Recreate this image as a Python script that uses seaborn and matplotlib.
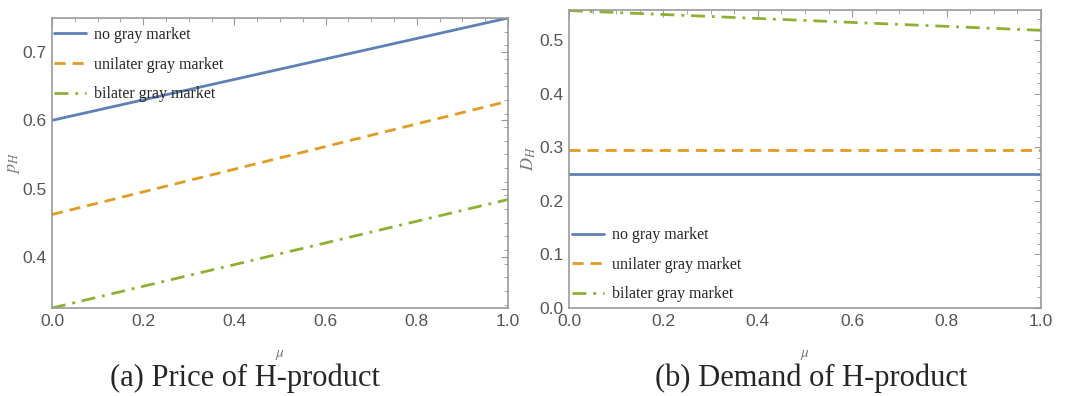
import pandas as pd
import numpy as np
import matplotlib.pyplot as plt
import seaborn as sns

# data
mu = [0.0, 1.0]
series = ['no gray market', 'unilater gray market', 'bilater gray market']
price_none = [0.600, 0.750]
price_uni = [0.462, 0.628]
price_bi = [0.325, 0.484]
demand_none = [0.250, 0.250]
demand_uni = [0.295, 0.295]
demand_bi = [0.556, 0.519]

colors = ['#5E81B5', '#E19C24', '#8FB032']
dashes = {series[0]: '', series[1]: (4, 2.5), series[2]: (5, 2.5, 1, 2.5)}

def make_frame(vals):
    rows = []
    for name, v in zip(series, vals):
        for x, y in zip(mu, v):
            rows.append({'mu': x, 'value': y, 'case': name})
    return pd.DataFrame(rows)

price_df = make_frame([price_none, price_uni, price_bi])
demand_df = make_frame([demand_none, demand_uni, demand_bi])

sns.set_style('white')
plt.rcParams['font.family'] = ['Liberation Sans', 'DejaVu Sans']
plt.rcParams['mathtext.fontset'] = 'stix'

W, H = 1074, 396
fig = plt.figure(figsize=(W / 100, H / 100), dpi=100)
ax1 = fig.add_axes([52 / W, 1 - 308 / H, 456 / W, 290 / H])
ax2 = fig.add_axes([569 / W, 1 - 308 / H, 472 / W, 298 / H])

for ax, df in [(ax1, price_df), (ax2, demand_df)]:
    sns.lineplot(data=df, x='mu', y='value', hue='case', style='case',
                 palette=colors, dashes=dashes, linewidth=2, ax=ax)
    ax.set_xlim(0, 1)
    ax.set_xticks(np.arange(0, 1.01, 0.2))
    ax.set_xticks(np.arange(0, 1.01, 0.05), minor=True)
    ax.tick_params(which='both', direction='in', top=True, right=True,
                   colors='#9a9a9a', labelcolor='#555555', labelsize=12.5)
    ax.tick_params(which='major', length=5, pad=4)
    ax.tick_params(which='minor', length=3)
    for s in ax.spines.values():
        s.set_color('#9a9a9a')
        s.set_linewidth(1.2)
    ax.set_xlabel(r'$\mu$', color='#777777', fontsize=11)
    ax.xaxis.set_label_coords(0.5, -40 / 290 if ax is ax1 else -40 / 298)

ax1.set_ylim(0.325, 0.75)
ax1.set_yticks([0.4, 0.5, 0.6, 0.7])
ax1.set_yticks(np.arange(0.33, 0.751, 0.02), minor=True)
ax1.set_ylabel(r'$p_H$', color='#777777', fontsize=13)
ax1.yaxis.set_label_coords(-30 / 456, 0.5)

ax2.set_ylim(0, 0.557)
ax2.set_yticks(np.arange(0, 0.51, 0.1))
ax2.set_yticks(np.arange(0, 0.557, 0.02), minor=True)
ax2.set_ylabel(r'$D_H$', color='#777777', fontsize=13)
ax2.yaxis.set_label_coords(-31 / 472, 0.5)

leg_font = {'family': 'Liberation Serif', 'size': 11.5}
anchors = {'upper left': (-0.008, -0.012, 1, 1), 'lower left': (-0.006, 0.0, 1, 1)}
for ax, loc in [(ax1, 'upper left'), (ax2, 'lower left')]:
    ax.legend(loc=loc, frameon=False, prop=leg_font, handlelength=2.0,
              labelspacing=0.85, borderaxespad=0.0, borderpad=0.35,
              handletextpad=0.5)
    ax.get_legend().set_bbox_to_anchor(anchors[loc], transform=ax.transAxes)

fig.text(380 / W, 1 - 378 / H, '(a) Price of H-product', ha='right', va='center',
         family='Liberation Serif', fontsize=22)
fig.text(967 / W, 1 - 378 / H, '(b) Demand of H-product', ha='right', va='center',
         family='Liberation Serif', fontsize=22)

fig.savefig('out.png', dpi=100)
